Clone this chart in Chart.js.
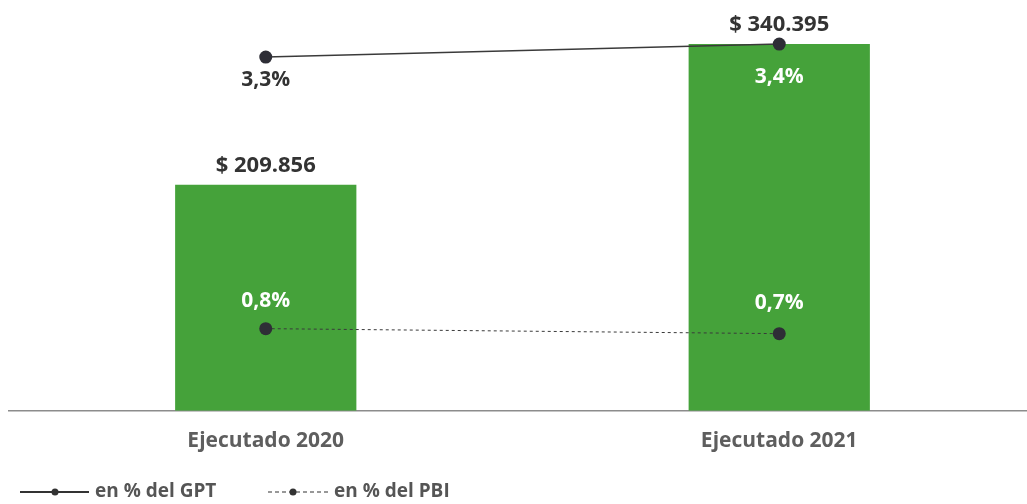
<!DOCTYPE html>
<html><head><meta charset="utf-8">
<script src="https://cdn.jsdelivr.net/npm/chart.js@4.4.0/dist/chart.umd.min.js"></script>
<style>html,body{margin:0;padding:0;background:#fff;overflow:hidden;width:1027px;height:504px}#wrap{width:1045px;height:504px}</style>
</head><body><div id="wrap"><canvas id="c" width="1045" height="504"></canvas></div>
<script>
const categories = ['Ejecutado 2020', 'Ejecutado 2021'];
const montos = [209856, 340395];
const pctGPT = [3.3, 3.4];
const pctPBI = [0.8, 0.7];
const legendLabels = ['en % del GPT', 'en % del PBI'];

const FONT = '"Open Sans", "DejaVu Sans", sans-serif';
const fmtMonto = v => '$ ' + v.toLocaleString('de-DE');
const fmtPct = v => v.toFixed(1).replace('.', ',') + '%';

const labelPlugin = {
  id: 'labels',
  afterDatasetsDraw(chart) {
    const ctx = chart.ctx;
    ctx.save();
    ctx.textAlign = 'center';
    ctx.textBaseline = 'middle';
    ctx.font = 'bold 22px ' + FONT;
    chart.getDatasetMeta(0).data.forEach((el, i) => {
      ctx.fillStyle = '#333333';
      ctx.fillText(fmtMonto(montos[i]), el.x, el.y - 19);
    });
    ctx.font = 'bold 21px ' + FONT;
    const gptOff = [23, 33], gptCol = ['#333333', '#ffffff'];
    chart.getDatasetMeta(1).data.forEach((el, i) => {
      ctx.fillStyle = gptCol[i];
      ctx.fillText(fmtPct(pctGPT[i]), el.x, el.y + gptOff[i]);
    });
    const pbiOff = [-28, -31];
    chart.getDatasetMeta(2).data.forEach((el, i) => {
      ctx.fillStyle = '#ffffff';
      ctx.fillText(fmtPct(pctPBI[i]), el.x, el.y + pbiOff[i]);
    });
    ctx.restore();
  },
  afterDraw(chart) {
    const ctx = chart.ctx;
    ctx.save();
    const y = 492;
    ctx.strokeStyle = '#333333';
    ctx.fillStyle = '#333333';
    ctx.lineWidth = 2;
    ctx.beginPath(); ctx.moveTo(20, y); ctx.lineTo(89, y); ctx.stroke();
    ctx.beginPath(); ctx.arc(55, y, 3.5, 0, Math.PI * 2); ctx.fill();
    ctx.lineWidth = 1.2;
    ctx.setLineDash([4, 3]);
    ctx.beginPath(); ctx.moveTo(268, y); ctx.lineTo(330, y); ctx.stroke();
    ctx.setLineDash([]);
    ctx.beginPath(); ctx.arc(293, y, 3.5, 0, Math.PI * 2); ctx.fill();
    ctx.font = 'bold 19px ' + FONT;
    ctx.fillStyle = '#555555';
    ctx.textBaseline = 'middle';
    ctx.textAlign = 'left';
    ctx.fillText(legendLabels[0], 95, y);
    ctx.fillText(legendLabels[1], 334, y);
    ctx.restore();
  }
};

new Chart(document.getElementById('c'), {
  data: {
    labels: categories,
    datasets: [
      { type: 'bar', data: montos, backgroundColor: '#45a23a', yAxisID: 'y', order: 3,
        categoryPercentage: 1, barPercentage: 0.353 },
      { type: 'line', data: pctGPT, yAxisID: 'y1', borderColor: '#3a3a3a', borderWidth: 1.5,
        pointRadius: 6.5, pointBackgroundColor: '#2e2e36', pointBorderWidth: 0, order: 1 },
      { type: 'line', data: pctPBI, yAxisID: 'y2', borderColor: '#3a3a3a', borderWidth: 1,
        borderDash: [3, 3], pointRadius: 6.5, pointBackgroundColor: '#2e2e36', pointBorderWidth: 0, order: 2 }
    ]
  },
  options: {
    responsive: false,
    animation: false,
    layout: { padding: { left: 9, right: 9, top: 10, bottom: 40 } },
    plugins: { legend: { display: false }, tooltip: { enabled: false } },
    scales: {
      x: {
        grid: { display: false },
        border: { display: true, color: '#8c8c8c', width: 1.5 },
        ticks: { color: '#5e5e5e', font: { family: FONT, size: 21, weight: 'bold' }, padding: 10 }
      },
      y: { display: false, min: 0, max: 372000 },
      y1: { display: false, min: 0.5846, max: 3.6615 },
      y2: { display: false, min: -0.84, max: 7.16 }
    }
  },
  plugins: [labelPlugin]
});
</script></body></html>
